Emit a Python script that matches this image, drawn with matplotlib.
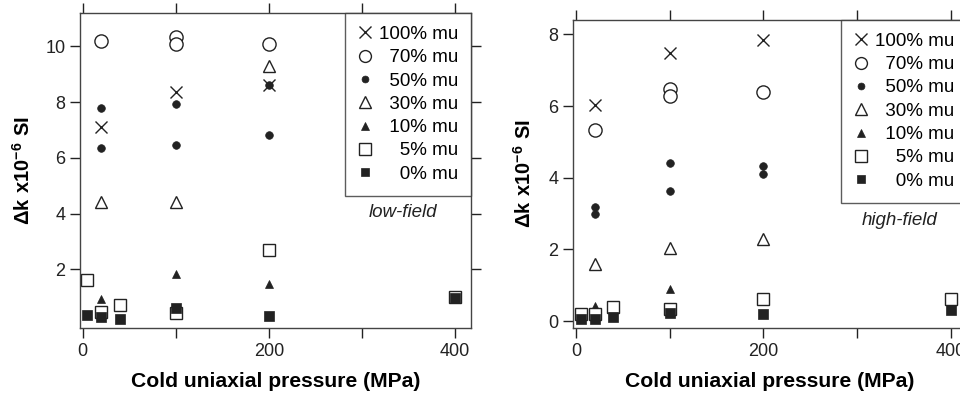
import numpy as np
import matplotlib.pyplot as plt

plt.rcParams['font.family'] = ['Liberation Sans', 'DejaVu Sans']
plt.rcParams['mathtext.fontset'] = 'custom'
plt.rcParams['mathtext.rm'] = 'Liberation Sans'
plt.rcParams['mathtext.bf'] = 'Liberation Sans:bold'

labels = ['100% mu', '70% mu', '50% mu', '30% mu', '10% mu', '5% mu', '0% mu']

# low-field panel: (pressure, dk) per mu content
low_x = {
    '100% mu': [20, 100, 200],
    '70% mu': [20, 100, 100, 200],
    '50% mu': [20, 20, 100, 100, 200, 200],
    '30% mu': [20, 100, 200],
    '10% mu': [20, 100, 200],
    '5% mu': [5, 20, 40, 100, 200, 400],
    '0% mu': [5, 20, 40, 100, 200, 400],
}
low_y = {
    '100% mu': [7.10, 8.36, 8.60],
    '70% mu': [10.21, 10.33, 10.08, 10.08],
    '50% mu': [7.78, 6.35, 7.93, 6.47, 8.60, 6.83],
    '30% mu': [4.41, 4.41, 9.31],
    '10% mu': [0.94, 1.85, 1.48],
    '5% mu': [1.61, 0.46, 0.73, 0.44, 2.71, 1.00],
    '0% mu': [0.38, 0.29, 0.22, 0.62, 0.34, 0.98],
}

# high-field panel
high_x = {
    '100% mu': [20, 100, 200],
    '70% mu': [20, 100, 100, 200],
    '50% mu': [20, 20, 100, 100, 200, 200],
    '30% mu': [20, 100, 200],
    '10% mu': [20, 100, 200],
    '5% mu': [5, 20, 40, 100, 200, 400],
    '0% mu': [5, 20, 40, 100, 200, 400],
}
high_y = {
    '100% mu': [6.03, 7.48, 7.83],
    '70% mu': [5.32, 6.47, 6.27, 6.38],
    '50% mu': [3.19, 2.99, 4.40, 3.64, 4.34, 4.10],
    '30% mu': [1.59, 2.05, 2.28],
    '10% mu': [0.42, 0.89, 0.68],
    '5% mu': [0.21, 0.21, 0.40, 0.33, 0.61, 0.61],
    '0% mu': [0.05, 0.05, 0.12, 0.24, 0.19, 0.31],
}

dark = '#222222'
styles = {
    '100% mu': dict(marker='x', ms=9, mfc='none', mec=dark, mew=1.0),
    '70% mu': dict(marker='o', ms=9.5, mfc='white', mec=dark, mew=1.0),
    '50% mu': dict(marker='o', ms=5.5, mfc=dark, mec=dark, mew=0.5),
    '30% mu': dict(marker='^', ms=9, mfc='white', mec=dark, mew=1.0),
    '10% mu': dict(marker='^', ms=6, mfc=dark, mec=dark, mew=0.5),
    '5% mu': dict(marker='s', ms=9, mfc='white', mec=dark, mew=1.0),
    '0% mu': dict(marker='s', ms=7, mfc=dark, mec=dark, mew=0.5),
}
pad = {'100% mu': '', '70% mu': '\u2007', '50% mu': '\u2007', '30% mu': '\u2007',
       '10% mu': '\u2007', '5% mu': '\u2007\u2007', '0% mu': '\u2007\u2007'}

fig = plt.figure(figsize=(9.6, 3.95), dpi=100)
W, H = 960, 395
ax1 = fig.add_axes([80 / W, (H - 328) / H, 391 / W, 315 / H])
ax2 = fig.add_axes([573 / W, (H - 328) / H, 394 / W, 308 / H])


def draw(ax, xs, ys, ylim, yticks, ylab_x):
    for lab in labels:
        ax.plot(xs[lab], ys[lab], ls='none', label=pad[lab] + lab, **styles[lab])
    ax.set_xlim(-3, 417)
    ax.set_ylim(*ylim)
    ax.set_xticks([0, 100, 200, 300, 400])
    ax.set_xticklabels(['0', '', '200', '', '400'])
    ax.set_yticks(yticks)
    ax.tick_params(direction='out', length=7, width=1, labelsize=13, colors='#222222',
                   top=True, right=True)
    for s in ax.spines.values():
        s.set_color('#444444')
        s.set_linewidth(1.0)
    ax.set_xlabel('Cold uniaxial pressure (MPa)', fontsize=15.2, fontweight='bold', labelpad=9)
    ax.set_ylabel(r'$\mathbf{\Delta k\ x10^{-6}\ SI}$', fontsize=14.5)
    ax.yaxis.set_label_coords(ylab_x, 0.5)
    leg = ax.legend(loc='upper right', borderaxespad=0, fancybox=False, edgecolor='#333333',
                    fontsize=13.5, handletextpad=0.3, labelspacing=0.33, borderpad=0.68,
                    handlelength=0.85, markerscale=0.9)
    leg.get_frame().set_linewidth(1.0)
    return leg


draw(ax1, low_x, low_y, (-0.1, 11.2), [2, 4, 6, 8, 10], -0.118)
ax1.text(0.826, 0.366, 'low-field', transform=ax1.transAxes, ha='center', va='center',
         style='italic', fontsize=13.5, color='#222222')
draw(ax2, high_x, high_y, (-0.19, 8.4), [0, 2, 4, 6, 8], -0.096)
ax2.text(0.83, 0.348, 'high-field', transform=ax2.transAxes, ha='center', va='center',
         style='italic', fontsize=13.5, color='#222222')

fig.savefig('out.png', dpi=100)
